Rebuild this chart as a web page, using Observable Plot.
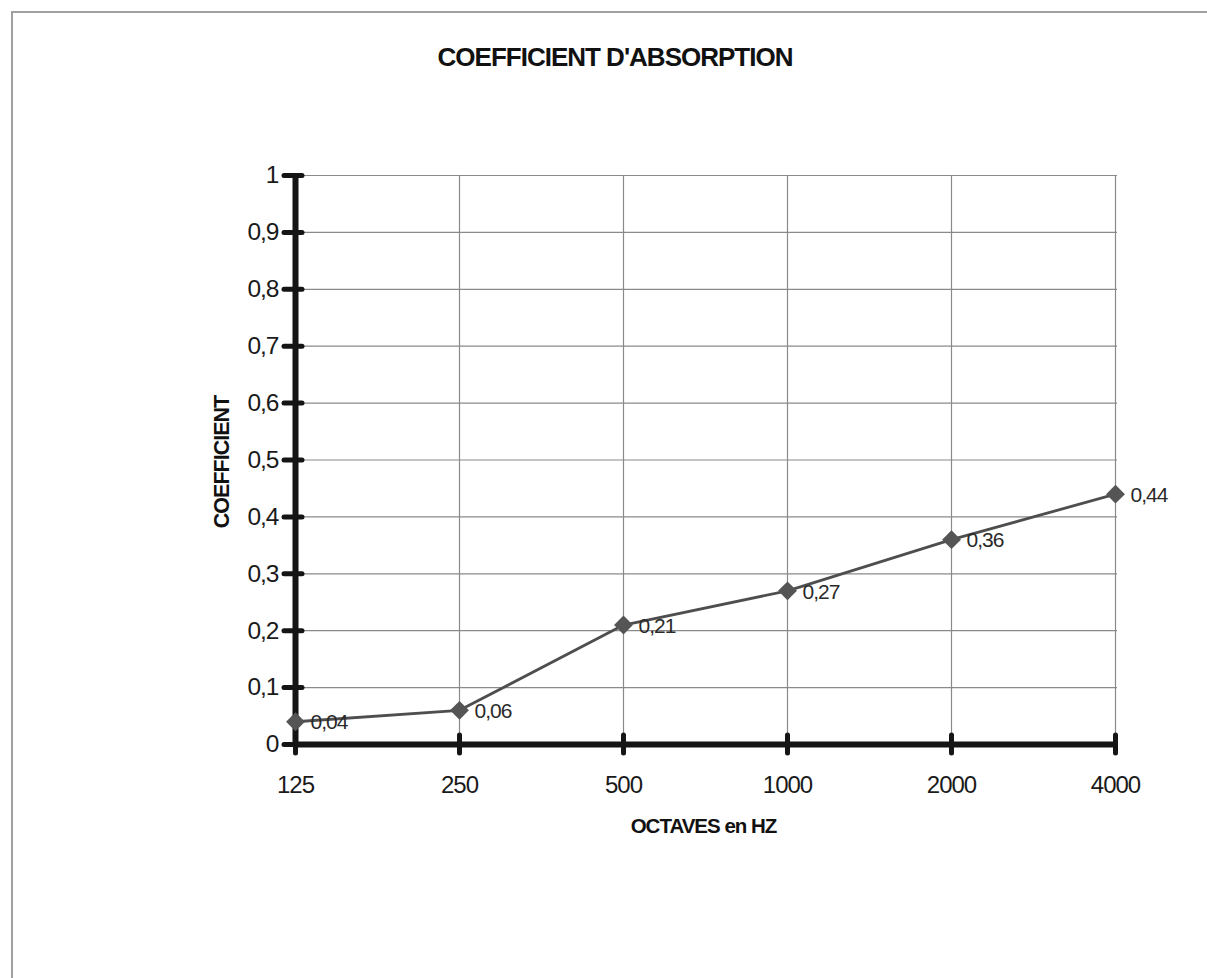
<!DOCTYPE html>
<html>
<head>
<meta charset="utf-8">
<script src="https://cdn.jsdelivr.net/npm/d3@7"></script>
<script src="https://cdn.jsdelivr.net/npm/@observablehq/plot@0.6"></script>
<style>
  html, body { margin: 0; padding: 0; background: #fff; }
  #wrap { position: relative; width: 1207px; height: 978px; overflow: hidden; font-family: "Liberation Sans", Arial, sans-serif; }
  #frame { position: absolute; left: 11px; top: 11px; width: 1300px; height: 1100px; border-left: 2px solid #a0a0a0; border-top: 2px solid #a0a0a0; }
  #title { position: absolute; left: 0; top: 0; width: 1207px; height: 80px; }
  #title div { position: absolute; left: 0; width: 1230px; top: 42px; text-align: center; font-weight: bold; font-size: 26px; letter-spacing: -1px; color: #111; }
  #chart { position: absolute; left: 0; top: 80px; }
</style>
</head>
<body>
<div id="wrap">
  <div id="frame"></div>
  <div id="title"><div>COEFFICIENT D'ABSORPTION</div></div>
  <div id="chart"></div>
</div>
<script>
const octaves = ["125", "250", "500", "1000", "2000", "4000"];
const coefficients = [0.04, 0.06, 0.21, 0.27, 0.36, 0.44];
const valueLabels = ["0,04", "0,06", "0,21", "0,27", "0,36", "0,44"];
const yTicks = [0, 0.1, 0.2, 0.3, 0.4, 0.5, 0.6, 0.7, 0.8, 0.9, 1];
const yTickLabels = ["0", "0,1", "0,2", "0,3", "0,4", "0,5", "0,6", "0,7", "0,8", "0,9", "1"];
const xTitle = "OCTAVES en HZ";
const yTitle = "COEFFICIENT";

const data = octaves.map((o, i) => ({octave: o, value: coefficients[i], label: valueLabels[i]}));
const fmtY = d => yTickLabels[yTicks.findIndex(t => Math.abs(t - d) < 1e-9)];

const chart = Plot.plot({
  width: 1207,
  height: 898,
  marginLeft: 293,
  marginRight: 90,
  marginTop: 95,
  marginBottom: 234,
  style: { fontFamily: "'Liberation Sans', Arial, sans-serif", background: "transparent", overflow: "visible" },
  x: { type: "point", domain: octaves, padding: 0 },
  y: { domain: [0, 1] },
  marks: [
    Plot.gridY(yTicks, { stroke: "#8a8a8a", strokeOpacity: 1, strokeWidth: 1.2 }),
    Plot.gridX(octaves, { stroke: "#8a8a8a", strokeOpacity: 1, strokeWidth: 1.2 }),
    // thick axis lines
    Plot.ruleX([octaves[0]], { y1: 0, y2: 1, stroke: "#151515", strokeWidth: 6 }),
    Plot.ruleY([0], { stroke: "#151515", strokeWidth: 6 }),
    // crossing ticks
    Plot.axisY(yTicks, { anchor: "left", tickSize: 18, dx: 9, text: null, stroke: "#151515", strokeWidth: 5, strokeLinecap: "round", label: null }),
    Plot.axisX(octaves, { anchor: "bottom", tickSize: 18, dy: -9, text: null, stroke: "#151515", strokeWidth: 5, strokeLinecap: "round", label: null }),
    // tick labels
    Plot.axisY(yTicks, { anchor: "left", tickSize: 0, tickPadding: 15, tickFormat: fmtY, fontSize: 24.5, fill: "#1a1a1a", label: null }),
    Plot.axisX(octaves, { anchor: "bottom", tickSize: 0, tickPadding: 31, fontSize: 24, fill: "#1a1a1a", label: null }),
    // axis titles
    Plot.text([xTitle], { frameAnchor: "bottom", dy: 82, lineAnchor: "middle", fontSize: 20.5, fontWeight: "bold", fill: "#111", textAnchor: "middle", dx: -2 }),
    Plot.text([yTitle], { frameAnchor: "left", dx: -71, dy: 2, rotate: -90, textAnchor: "middle", lineAnchor: "middle", fontSize: 21.5, fontWeight: "bold", fill: "#111" }),
    // data
    Plot.line(data, { x: "octave", y: "value", stroke: "#4e4e4e", strokeWidth: 2.8 }),
    Plot.dot(data, { x: "octave", y: "value", symbol: "diamond2", r: 8.5, fill: "#555555", stroke: "none" }),
    Plot.text(data, { x: "octave", y: "value", text: "label", dx: 15, dy: 1, textAnchor: "start", fontSize: 21, fill: "#2a2a2a" })
  ]
});
chart.querySelectorAll("text").forEach(t => t.style.letterSpacing = "-1px");
document.getElementById("chart").appendChild(chart);
</script>
</body>
</html>
